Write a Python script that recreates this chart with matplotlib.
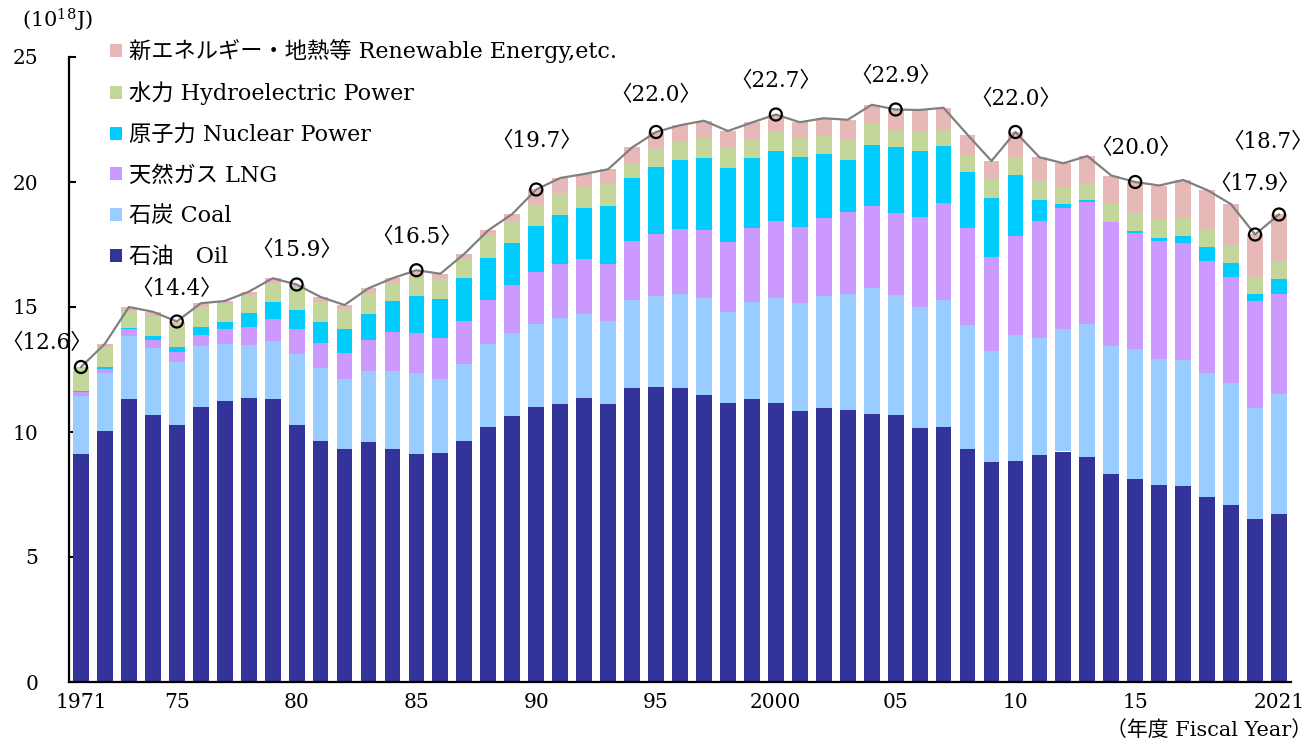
import matplotlib
matplotlib.use('Agg')
import matplotlib.pyplot as plt
from matplotlib.patches import Patch
import numpy as np

plt.rcParams['font.family'] = ['DejaVu Serif', 'Noto Sans CJK JP']
plt.rcParams['mathtext.fontset'] = 'dejavuserif'

years = list(range(1971, 2022))
oil = [9.12, 10.05, 11.32, 10.70, 10.29, 11.01, 11.24, 11.37, 11.32, 10.29,
       9.64, 9.33, 9.61, 9.34, 9.12, 9.16, 9.64, 10.21, 10.65, 11.01,
       11.14, 11.38, 11.13, 11.75, 11.81, 11.76, 11.50, 11.18, 11.34, 11.16,
       10.84, 10.97, 10.90, 10.73, 10.69, 10.17, 10.21, 9.33, 8.81, 8.86,
       9.09, 9.22, 9.01, 8.34, 8.14, 7.87, 7.83, 7.41, 7.09, 6.54, 6.73]
coal = [2.32, 2.30, 2.53, 2.67, 2.52, 2.43, 2.28, 2.10, 2.32, 2.82,
        2.91, 2.78, 2.83, 3.09, 3.23, 2.95, 3.07, 3.30, 3.30, 3.32,
        3.41, 3.33, 3.32, 3.52, 3.63, 3.75, 3.86, 3.62, 3.87, 4.20,
        4.31, 4.47, 4.61, 5.02, 4.79, 4.84, 5.07, 4.95, 4.42, 5.01,
        4.68, 4.89, 5.30, 5.11, 5.17, 5.05, 5.05, 4.95, 4.87, 4.43, 4.80]
lng = [0.16, 0.17, 0.26, 0.32, 0.38, 0.43, 0.59, 0.73, 0.89, 1.00,
       1.01, 1.05, 1.23, 1.56, 1.60, 1.65, 1.72, 1.77, 1.92, 2.06,
       2.16, 2.21, 2.28, 2.38, 2.48, 2.61, 2.72, 2.79, 2.95, 3.07,
       3.07, 3.12, 3.31, 3.29, 3.28, 3.59, 3.87, 3.87, 3.77, 3.97,
       4.67, 4.87, 4.89, 4.95, 4.65, 4.72, 4.68, 4.48, 4.25, 4.27, 4.00]
nuclear = [0.06, 0.08, 0.05, 0.16, 0.22, 0.32, 0.29, 0.56, 0.66, 0.77,
           0.83, 0.97, 1.06, 1.26, 1.49, 1.56, 1.74, 1.68, 1.70, 1.86,
           1.97, 2.06, 2.31, 2.50, 2.67, 2.78, 2.90, 2.99, 2.79, 2.83,
           2.80, 2.58, 2.08, 2.46, 2.66, 2.65, 2.29, 2.23, 2.38, 2.46,
           0.86, 0.12, 0.08, 0.00, 0.07, 0.13, 0.28, 0.55, 0.55, 0.29, 0.60]
hydro = [0.89, 0.81, 0.69, 0.80, 0.94, 0.80, 0.71, 0.71, 0.78, 0.87,
         0.82, 0.78, 0.82, 0.70, 0.80, 0.79, 0.75, 0.87, 0.88, 0.82,
         0.90, 0.77, 0.87, 0.60, 0.73, 0.69, 0.77, 0.81, 0.76, 0.77,
         0.73, 0.71, 0.83, 0.83, 0.68, 0.77, 0.65, 0.68, 0.69, 0.72,
         0.74, 0.66, 0.67, 0.71, 0.72, 0.70, 0.71, 0.70, 0.67, 0.68, 0.68]
renewable = [0.05, 0.12, 0.15, 0.16, 0.07, 0.16, 0.13, 0.14, 0.18, 0.15,
             0.19, 0.17, 0.20, 0.20, 0.23, 0.22, 0.21, 0.24, 0.27, 0.63,
             0.58, 0.57, 0.60, 0.63, 0.68, 0.68, 0.70, 0.65, 0.67, 0.67,
             0.64, 0.70, 0.76, 0.76, 0.80, 0.86, 0.88, 0.83, 0.77, 0.98,
             0.95, 0.99, 1.09, 1.15, 1.25, 1.39, 1.53, 1.59, 1.68, 1.69, 1.89]

series_names = ['石油\u3000Oil', '石炭 Coal', '天然ガス LNG', '原子力 Nuclear Power',
                '水力 Hydroelectric Power', '新エネルギー・地熱等 Renewable Energy,etc.']
series_colors = ['#333399', '#99CCFF', '#CC99FF', '#00CCFF', '#C4D79B', '#E6B8B7']

label_years = [1971, 1975, 1980, 1985, 1990, 1995, 2000, 2005, 2010, 2015, 2020, 2021]
label_values = [12.6, 14.4, 15.9, 16.5, 19.7, 22.0, 22.7, 22.9, 22.0, 20.0, 17.9, 18.7]

xtick_years = [1971, 1975, 1980, 1985, 1990, 1995, 2000, 2005, 2010, 2015, 2021]
xtick_labels = ['1971', '75', '80', '85', '90', '95', '2000', '05', '10', '15', '2021']

# label offsets in points (dx, dy) relative to the circle
label_offsets = {1971: (-25, 17), 1975: (0, 23), 1980: (0, 24.5), 1985: (0, 24),
                 1990: (0, 35), 1995: (0, 26.5), 2000: (0, 24), 2005: (0, 24),
                 2010: (0, 24), 2015: (0, 24.5), 2020: (0, 36), 2021: (-8, 52)}

fig = plt.figure(figsize=(13.14, 7.45), dpi=100)
ax = fig.add_axes([69 / 1314, 1 - 682 / 745, (1291 - 69) / 1314, (682 - 57) / 745])

x = np.array(years, dtype=float)
data = [oil, coal, lng, nuclear, hydro, renewable]
bottom = np.zeros(len(years))
handles = []
for vals, name, col in zip(data, series_names, series_colors):
    v = np.array(vals)
    ax.bar(x, v, bottom=bottom, width=0.66, color=col, edgecolor='none', zorder=2)
    bottom = bottom + v
    handles.append(Patch(facecolor=col, edgecolor='none', label=name))
total = bottom

ax.plot(x, total, color='#808080', lw=1.6, zorder=3)
idx = [years.index(y) for y in label_years]
ax.scatter(np.array(label_years), total[idx], s=75, facecolor='none',
           edgecolor='black', linewidths=1.6, zorder=4)
for yr, val, i in zip(label_years, label_values, idx):
    dx, dy = label_offsets[yr]
    ax.annotate(f'〈{val:.1f}〉', xy=(yr, total[i]), xytext=(dx, dy),
                textcoords='offset points', ha='center', va='center', fontsize=15.5)

ax.set_xlim(1970.5, 2021.5)
ax.set_ylim(0, 25)
ax.set_yticks([0, 5, 10, 15, 20, 25])
ax.set_xticks(xtick_years)
ax.set_xticklabels(xtick_labels)
ax.tick_params(axis='y', direction='in', length=5, width=1.5, labelsize=14.5, pad=22)
ax.tick_params(axis='x', length=0, labelsize=14.5, pad=8)
for s in ['top', 'right']:
    ax.spines[s].set_visible(False)
for s in ['left', 'bottom']:
    ax.spines[s].set_linewidth(1.6)

leg = ax.legend(handles=handles[::-1], loc='upper left',
                bbox_to_anchor=(110 / 1314, 1 - 39 / 745), bbox_transform=fig.transFigure,
                frameon=False, fontsize=16, handlelength=0.52, handleheight=0.52,
                handletextpad=0.35, labelspacing=0.84, borderpad=0, borderaxespad=0)

fig.text(22 / 1314, 1 - 20 / 745, '(10$^{18}$J)', fontsize=15, ha='left', va='center')
fig.text(1312 / 1314, 1 - 730 / 745, '（年度 Fiscal Year）', fontsize=15, ha='right', va='center')

fig.savefig('out.png', dpi=100)
